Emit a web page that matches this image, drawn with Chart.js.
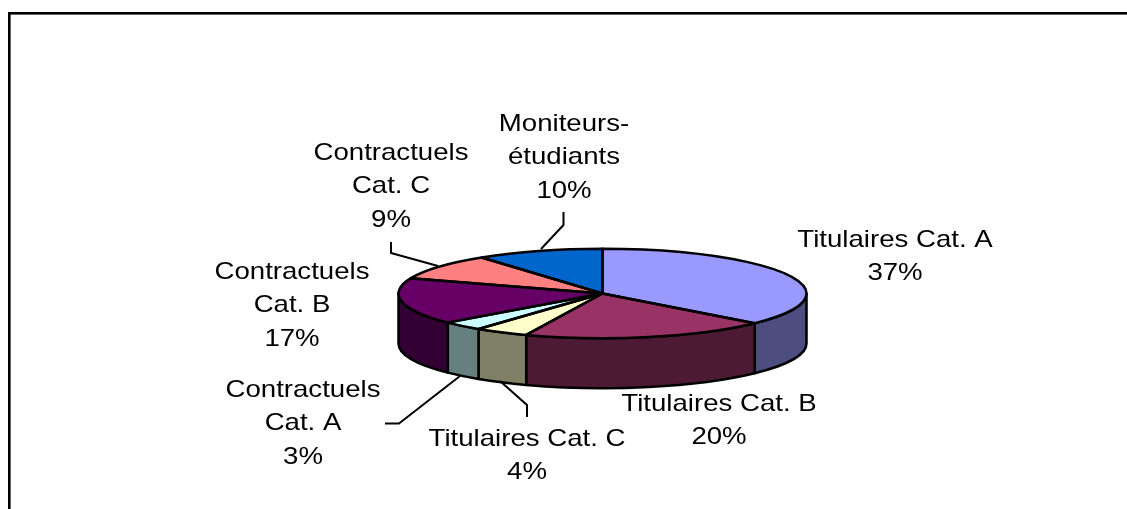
<!DOCTYPE html>
<html>
<head>
<meta charset="utf-8">
<style>
  html, body { margin: 0; padding: 0; background: #fff; }
  canvas { display: block; }
</style>
<script src="https://cdn.jsdelivr.net/npm/chart.js@4/dist/chart.umd.min.js"></script>
</head>
<body>
<canvas id="pie" width="1127" height="509"></canvas>
<script>
// data
const categories = [
  ["Titulaires Cat. A"],
  ["Titulaires Cat. B"],
  ["Titulaires Cat. C"],
  ["Contractuels", "Cat. A"],
  ["Contractuels", "Cat. B"],
  ["Contractuels", "Cat. C"],
  ["Moniteurs-", "étudiants"]
];
const shares = [36.6, 19.5, 4.3, 3.3, 16.8, 9.4, 10.1];

const topColors = ["#9999FF", "#993366", "#FFFFCC", "#CCFFFF", "#660066", "#FF8080", "#0066CC"];
const wallColors = ["#4D4D80", "#4D1A33", "#808066", "#668080", "#330033", "#804040", "#003366"];

// label centres (x, y of first line)
const labelX = [895, 719, 527, 303, 292, 391, 564];
const labelY = [240, 404, 439, 390, 272, 153, 124];
const lineGap = 33.5;
// the original text is stretched sideways
const textStretch = 1.15;

// leader lines
const leaders = [
  [[563.5, 212], [563.5, 225], [541, 249]],
  [[391, 242], [391, 253], [438, 266]],
  [[385, 423.5], [399, 423.5], [460, 376]],
  [[527, 417], [527, 405], [500, 381]]
];

const squash = 44.7 / 204;
const depth = 50;

function frontWall(ctx, arc, color) {
  const a0 = Math.max(arc.startAngle, 0);
  const a1 = Math.min(arc.endAngle, Math.PI);
  if (a1 <= a0) return;
  const rx = arc.outerRadius, ry = rx * squash;
  ctx.beginPath();
  ctx.ellipse(arc.x, arc.y, rx, ry, 0, a0, a1);
  ctx.ellipse(arc.x, arc.y + depth, rx, ry, 0, a1, a0, true);
  ctx.closePath();
  ctx.fillStyle = color;
  ctx.fill();
  ctx.lineWidth = 2.5;
  ctx.strokeStyle = "#000";
  ctx.lineJoin = "round";
  ctx.stroke();
}

const pie3d = {
  id: "pie3d",
  beforeDraw(chart) {
    const ctx = chart.ctx;
    ctx.save();
    ctx.fillStyle = "#000";
    ctx.fillRect(8, 12, 1119, 2.6);
    ctx.fillRect(8, 12, 2.6, 497);
    ctx.restore();
  },
  beforeDatasetsDraw(chart) {
    const ctx = chart.ctx;
    const arcs = chart.getDatasetMeta(0).data;
    arcs.forEach((arc, i) => frontWall(ctx, arc, wallColors[i]));
    // top face: library arcs, flattened
    const c = arcs[0];
    ctx.save();
    ctx.translate(c.x, c.y);
    ctx.scale(1, squash);
    ctx.translate(-c.x, -c.y);
  },
  afterDatasetsDraw(chart) {
    const ctx = chart.ctx;
    ctx.restore();
    const arcs = chart.getDatasetMeta(0).data;
    ctx.save();
    ctx.strokeStyle = "#000";
    ctx.lineWidth = 2.5;
    ctx.lineJoin = "round";
    arcs.forEach((arc) => {
      ctx.beginPath();
      ctx.moveTo(arc.x, arc.y);
      ctx.ellipse(arc.x, arc.y, arc.outerRadius, arc.outerRadius * squash, 0, arc.startAngle, arc.endAngle);
      ctx.closePath();
      ctx.stroke();
    });
    ctx.lineWidth = 2;
    leaders.forEach((pts) => {
      ctx.beginPath();
      pts.forEach((p, i) => (i ? ctx.lineTo(p[0], p[1]) : ctx.moveTo(p[0], p[1])));
      ctx.stroke();
    });
    ctx.fillStyle = "#000";
    ctx.font = '24px "Liberation Sans", Arial, sans-serif';
    ctx.textAlign = "center";
    ctx.textBaseline = "middle";
    categories.forEach((lines, i) => {
      const all = lines.concat(Math.round(shares[i]) + "%");
      all.forEach((t, k) => {
        ctx.save();
        ctx.translate(labelX[i], labelY[i] + k * lineGap);
        ctx.scale(textStretch, 1);
        ctx.fillText(t, 0, 0);
        ctx.restore();
      });
    });
    ctx.restore();
  }
};

new Chart(document.getElementById("pie").getContext("2d"), {
  type: "pie",
  data: {
    labels: categories,
    datasets: [{
      data: shares,
      backgroundColor: topColors,
      borderWidth: 0
    }]
  },
  options: {
    responsive: false,
    animation: false,
    layout: { padding: { left: 398.5, right: 320.5, top: 89.5, bottom: 11.5 } },
    plugins: { legend: { display: false }, tooltip: { enabled: false } }
  },
  plugins: [pie3d]
});
</script>
</body>
</html>
